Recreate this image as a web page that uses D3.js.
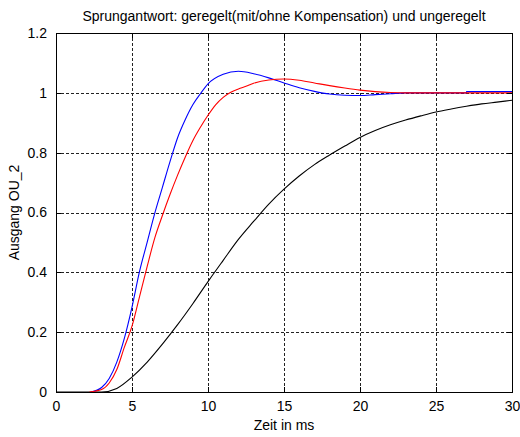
<!DOCTYPE html>
<html>
<head>
<meta charset="utf-8">
<script src="https://cdn.jsdelivr.net/npm/d3@7"></script>
<style>
  body { margin: 0; background: #fff; }
  text { font-family: "Liberation Sans", Arial, sans-serif; fill: #000; }
</style>
</head>
<body>
<svg id="chart"></svg>
<script>
var svgDimensions = { width: 520, height: 437 };
var margin = { left: 56, right: 8, top: 33, bottom: 45 };

var titleText = 'Sprungantwort: geregelt(mit/ohne Kompensation) und ungeregelt';
var xLabelText = 'Zeit in ms';
var yLabelText = 'Ausgang OU_2';

var xTicks = [0, 5, 10, 15, 20, 25, 30];
var yTicks = [0, 0.2, 0.4, 0.6, 0.8, 1, 1.2];

// ungeregelt (schwarz)
var tBlack = [0, 3, 4, 5, 6, 7, 8, 9, 10, 11, 12, 13, 14, 15, 16, 17, 18, 19, 20, 21, 22, 23, 24, 25, 26, 27, 28, 29, 30];
var yBlack = [0, 0, 0.012, 0.05, 0.1, 0.16, 0.225, 0.295, 0.369, 0.44, 0.51, 0.57, 0.628, 0.678, 0.722, 0.76, 0.792, 0.822, 0.851, 0.874, 0.893, 0.909, 0.923, 0.936, 0.946, 0.955, 0.963, 0.969, 0.975];

// geregelt mit Kompensation (blau)
var tBlue = [2.3, 3, 3.5, 4, 4.5, 5, 5.5, 6, 6.5, 7, 7.5, 8, 8.5, 9, 9.5, 10, 11, 12, 13, 14, 15, 16, 17, 18, 19, 20, 21, 22, 23, 27, 27.01, 30];
var yBlue = [0, 0.015, 0.045, 0.1, 0.18, 0.284, 0.404, 0.501, 0.598, 0.684, 0.77, 0.85, 0.91, 0.96, 0.997, 1.03, 1.062, 1.072, 1.064, 1.05, 1.033, 1.017, 1.005, 0.996, 0.992, 0.991, 0.994, 0.997, 1.0, 1.0, 1.004, 1.004];

// geregelt ohne Kompensation (rot)
var tRed = [2.2, 3, 3.5, 4, 4.5, 5, 5.5, 6, 6.5, 7, 7.5, 8, 8.5, 9, 9.5, 10, 10.5, 11, 11.5, 12, 12.5, 13, 14, 15, 16, 17, 18, 19, 20, 21, 22, 23, 30];
var yRed = [0, 0.008, 0.03, 0.075, 0.15, 0.22, 0.32, 0.42, 0.515, 0.59, 0.66, 0.725, 0.785, 0.84, 0.885, 0.925, 0.96, 0.985, 1.002, 1.013, 1.022, 1.032, 1.043, 1.046, 1.042, 1.033, 1.024, 1.016, 1.009, 1.004, 1.001, 1.0, 1.0];

var seriesList = [
	{ t: tBlack, y: yBlack, color: '#000000' },
	{ t: tBlue, y: yBlue, color: '#0000ff' },
	{ t: tRed, y: yRed, color: '#ff0000' }
];

var plotW = svgDimensions.width - margin.left - margin.right;
var plotH = svgDimensions.height - margin.top - margin.bottom;

var svg = d3.select('#chart')
	.attr('width', svgDimensions.width)
	.attr('height', svgDimensions.height);

var x = d3.scaleLinear().domain([0, 30]).range([margin.left, margin.left + plotW]);
var y = d3.scaleLinear().domain([0, 1.2]).range([margin.top + plotH, margin.top]);

var fontSize = 14;

// grid
var grid = svg.append('g')
	.attr('stroke', '#222')
	.attr('stroke-width', 1)
	.attr('stroke-dasharray', '3,2')
	.attr('shape-rendering', 'crispEdges');
grid.selectAll('line.gx')
	.data(xTicks.slice(1, -1))
	.enter().append('line')
	.attr('x1', d => Math.round(x(d)) + 0.5).attr('x2', d => Math.round(x(d)) + 0.5)
	.attr('y1', y(1.2)).attr('y2', y(0));
grid.selectAll('line.gy')
	.data(yTicks.slice(1, -1))
	.enter().append('line')
	.attr('y1', d => Math.round(y(d)) + 0.5).attr('y2', d => Math.round(y(d)) + 0.5)
	.attr('x1', x(0)).attr('x2', x(30));

// curves
var line = d3.line()
	.x(d => x(d[0]))
	.y(d => y(d[1]))
	.curve(d3.curveMonotoneX);

svg.selectAll('path.curve')
	.data(seriesList)
	.enter().append('path')
	.attr('class', 'curve')
	.attr('d', s => line(d3.zip(s.t, s.y)))
	.attr('fill', 'none')
	.attr('stroke', s => s.color)
	.attr('stroke-width', 1.1);

// axes (ticks inward, on all four sides)
var xAxisB = d3.axisBottom(x).tickValues(xTicks).tickSize(-5).tickPadding(9).tickFormat(d3.format('d'));
var xAxisT = d3.axisTop(x).tickValues(xTicks).tickSize(-5).tickFormat('');
var yAxisL = d3.axisLeft(y).tickValues(yTicks).tickSize(-5).tickPadding(9).tickFormat(d => String(d));
var yAxisR = d3.axisRight(y).tickValues(yTicks).tickSize(-5).tickFormat('');

function styleAxis(g) {
	g.select('.domain').remove();
	g.selectAll('line').attr('stroke', '#000').attr('shape-rendering', 'crispEdges');
	g.selectAll('text').attr('font-size', fontSize).attr('font-family', '"Liberation Sans", Arial, sans-serif');
}

svg.append('g').attr('transform', 'translate(0,' + y(0) + ')').call(xAxisB).call(styleAxis);
svg.append('g').attr('transform', 'translate(0,' + y(1.2) + ')').call(xAxisT).call(styleAxis);
svg.append('g').attr('transform', 'translate(' + x(0) + ',0)').call(yAxisL).call(styleAxis);
svg.append('g').attr('transform', 'translate(' + x(30) + ',0)').call(yAxisR).call(styleAxis);

// box
svg.append('rect')
	.attr('x', Math.round(x(0)) + 0.5)
	.attr('y', Math.round(y(1.2)) + 0.5)
	.attr('width', Math.round(x(30)) - Math.round(x(0)))
	.attr('height', Math.round(y(0)) - Math.round(y(1.2)))
	.attr('fill', 'none')
	.attr('stroke', '#000')
	.attr('shape-rendering', 'crispEdges');

// labels
svg.append('text')
	.attr('x', (x(0) + x(30)) / 2)
	.attr('y', 21)
	.attr('text-anchor', 'middle')
	.attr('font-size', fontSize)
	.text(titleText);

svg.append('text')
	.attr('x', (x(0) + x(30)) / 2)
	.attr('y', 430)
	.attr('text-anchor', 'middle')
	.attr('font-size', fontSize)
	.text(xLabelText);

svg.append('text')
	.attr('transform', 'translate(19,' + (y(0) + y(1.2)) / 2 + ') rotate(-90)')
	.attr('text-anchor', 'middle')
	.attr('font-size', fontSize)
	.text(yLabelText);
</script>
</body>
</html>
